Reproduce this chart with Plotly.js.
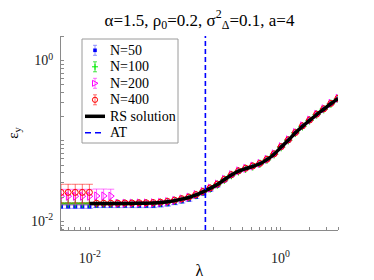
<!DOCTYPE html>
<html>
<head>
<meta charset="utf-8">
<script src="https://cdn.plot.ly/plotly-3.0.1.min.js"></script>
<style>html,body{margin:0;padding:0;background:#fff;}#chart{width:374px;height:280px;}</style>
</head>
<body>
<div id="chart"></div>
<script>
// lambda values (log-spaced sample points)
const lambda = [0.00500,0.00594,0.00705,0.00836,0.00992,0.01178,0.01398,0.01660,0.01970,0.02339,
  0.02776,0.03295,0.03911,0.04642,0.05510,0.06540,0.07762,0.09213,0.1094,0.1298,
  0.1541,0.1829,0.2171,0.2576,0.3058,0.3630,0.4308,0.5114,0.6069,0.7204,
  0.8551,1.015,1.205,1.430,1.698,2.015,2.392,2.839,3.370,4.000];

const n50 = [0.0153,0.0153,0.0153,0.0153,0.0153,0.0156,0.0156,0.0156,0.0156,0.0156,
  0.0156,0.0156,0.0156,0.0156,0.0159,0.0163,0.0169,0.0177,0.0186,0.0201,
  0.0221,0.0246,0.0277,0.0322,0.0370,0.0415,0.0448,0.0480,0.0517,0.0583,
  0.0681,0.0836,0.101,0.126,0.152,0.180,0.213,0.248,0.290,0.335];
const n50err = [0.0008,0.0008,0.0008,0.0008,0.0008,0.0008,0.0008,0.0008,0.0008,0.0008,
  0.0008,0.0008,0.0008,0.0008,0.0008,0.0008,0.0008,0.0008,0.0008,0.0008,
  0.0008,0.0008,0.0008,0.0008,0.0008,0.0008,0.0008,0.0008,0.0008,0.0008,
  0.0008,0.0008,0.0008,0.0008,0.0008,0.0008,0.0008,0.0008,0.0008,0.0008];

const n100 = [0.0166,0.0166,0.0166,0.0166,0.0166,0.0166,0.0166,0.0166,0.0166,0.0166,
  0.0166,0.0167,0.0167,0.0168,0.0170,0.0174,0.0180,0.0188,0.0197,0.0212,
  0.0232,0.0256,0.0286,0.0329,0.0376,0.0419,0.0451,0.0482,0.0519,0.0584,
  0.0682,0.0837,0.102,0.126,0.152,0.180,0.213,0.248,0.290,0.335];
const n100err = [0.0005,0.0005,0.0005,0.0005,0.0005,0.0005,0.0005,0.0005,0.0005,0.0005,
  0.0005,0.0005,0.0005,0.0005,0.0005,0.0005,0.0005,0.0005,0.0005,0.0005,
  0.0005,0.0005,0.0005,0.0005,0.0005,0.0005,0.0005,0.0005,0.0005,0.0005,
  0.0005,0.0005,0.0005,0.0005,0.0005,0.0005,0.0005,0.0005,0.0005,0.0005];

const n200 = [0.0205,0.0205,0.0205,0.0205,0.0205,0.0207,0.0207,0.0206,0.0168,0.0168,
  0.0168,0.0169,0.0169,0.0170,0.0172,0.0176,0.0182,0.0190,0.0200,0.0215,
  0.0235,0.0259,0.0290,0.0333,0.0380,0.0424,0.0456,0.0487,0.0524,0.0590,
  0.0689,0.0846,0.103,0.127,0.154,0.182,0.215,0.251,0.293,0.339];
const n200err = [0.0045,0.0045,0.0045,0.0045,0.0045,0.0045,0.0045,0.0045,0.0004,0.0004,
  0.0004,0.0004,0.0004,0.0004,0.0004,0.0004,0.0004,0.0004,0.0004,0.0004,
  0.0004,0.0004,0.0004,0.0004,0.0004,0.0004,0.0004,0.0004,0.0004,0.0004,
  0.0004,0.0004,0.0004,0.0004,0.0004,0.0004,0.0004,0.0004,0.0004,0.0004];

const n400 = [0.0229,0.0229,0.0229,0.0229,0.0229,0.0168,0.0168,0.0168,0.0168,0.0169,
  0.0169,0.0170,0.0170,0.0171,0.0173,0.0177,0.0183,0.0191,0.0200,0.0215,
  0.0235,0.0260,0.0290,0.0333,0.0381,0.0424,0.0457,0.0488,0.0525,0.0591,
  0.0690,0.0847,0.103,0.127,0.154,0.182,0.215,0.251,0.293,0.339];
const n400err = [0.0060,0.0060,0.0060,0.0060,0.0060,0.0004,0.0004,0.0004,0.0004,0.0004,
  0.0004,0.0004,0.0004,0.0004,0.0004,0.0004,0.0004,0.0004,0.0004,0.0004,
  0.0004,0.0004,0.0004,0.0004,0.0004,0.0004,0.0004,0.0004,0.0004,0.0004,
  0.0004,0.0004,0.0004,0.0004,0.0004,0.0004,0.0004,0.0004,0.0004,0.0004];

// RS solution (defined from lambda = 0.01 onward)
const rsLambda = lambda.slice(4);
const rs = [0.0167,0.0167,0.0167,0.0167,0.0167,0.0167,0.0167,0.0168,0.0168,0.0169,
  0.0171,0.0175,0.0181,0.0189,0.0198,0.0213,0.0233,0.0257,0.0287,0.0330,
  0.0377,0.0420,0.0452,0.0483,0.0520,0.0585,0.0683,0.0838,0.102,0.126,
  0.152,0.180,0.213,0.248,0.290,0.335];

const atLambda = 0.163;
const xRange = [0.005, 4];
const yRange = [0.0078, 2.02];

const xTickVals = [0.01, 1];
const xTickText = ['10<sup>-2</sup>', '10<sup>0</sup>'];
const yTickVals = [0.01, 1];
const yTickText = ['10<sup>-2</sup>', '10<sup>0</sup>'];

const legendNames = ['N=50', 'N=100', 'N=200', 'N=400', 'RS solution', 'AT'];

function minorTicks(lo, hi) {
  const out = [];
  for (let e = -4; e <= 1; e++) {
    for (let m = 1; m <= 9; m++) {
      const v = m * Math.pow(10, e);
      if (v >= lo && v <= hi) out.push(v);
    }
  }
  return out;
}

const serif = "'Liberation Serif', 'Times New Roman', serif";
const W = 374, H = 280;
const M = {l: 61, r: 36, t: 36, b: 50};
const PW = W - M.l - M.r, PH = H - M.t - M.b;
const px = x => (x - M.l) / PW;      // pixel -> paper x
const py = y => (H - M.b - y) / PH;  // pixel -> paper y

const colors = {n50: '#0000ff', n100: '#00ee00', n200: '#ff00ff', n400: '#ff0000'};
const errColors = {n50: 'rgba(80,80,255,0.6)', n100: 'rgba(0,220,0,0.7)', n200: 'rgba(255,0,255,0.55)', n400: 'rgba(255,0,0,0.55)'};

function errTrace(y, err, name, errColor, marker) {
  return {
    x: lambda, y: y, name: name, type: 'scatter', mode: 'markers',
    marker: marker, showlegend: false,
    error_y: {type: 'data', array: err, visible: true, color: errColor, thickness: 1, width: 3.5}
  };
}

const traces = [
  errTrace(n50, n50err, legendNames[0], errColors.n50,
    {symbol: 'square', size: 4, color: colors.n50, line: {width: 0}}),
  errTrace(n100, n100err, legendNames[1], errColors.n100,
    {symbol: 'cross-thin-open', size: 6, color: colors.n100, line: {width: 1, color: colors.n100}}),
  errTrace(n200, n200err, legendNames[2], errColors.n200,
    {symbol: 'triangle-right-open', size: 7, color: colors.n200, line: {width: 1, color: colors.n200}}),
  errTrace(n400, n400err, legendNames[3], errColors.n400,
    {symbol: 'circle-open', size: 6, color: colors.n400, line: {width: 1, color: colors.n400}}),
  {x: rsLambda, y: rs, name: legendNames[4], type: 'scatter', mode: 'lines', showlegend: false,
   line: {color: '#000000', width: 3.5, shape: 'spline', smoothing: 0.6}},
  {x: [atLambda, atLambda], y: yRange, name: legendNames[5], type: 'scatter', mode: 'lines', showlegend: false,
   line: {color: '#0000ff', width: 1.6, dash: '5px,3px'}}
];

// ---- hand-built legend (box, samples, labels) ----
const LG = {x0: 82, x1: 178, y0: 39, y1: 143, row0: 50.3, dy: 16.5, symX: 95, lineX0: 85, lineX1: 105, textX: 108};
const shapes = [];
const annotations = [];
shapes.push({type: 'rect', xref: 'paper', yref: 'paper', x0: px(LG.x0), x1: px(LG.x1), y0: py(LG.y1), y1: py(LG.y0),
  fillcolor: '#ffffff', line: {color: '#9a9a9a', width: 1}, layer: 'above'});
function seg(x0, y0, x1, y1, color, width, dash) {
  shapes.push({type: 'line', xref: 'paper', yref: 'paper', x0: px(x0), y0: py(y0), x1: px(x1), y1: py(y1),
    line: {color: color, width: width, dash: dash || 'solid'}, layer: 'above'});
}
function errSample(cy, color) {
  seg(LG.symX, cy - 5, LG.symX, cy + 5, color, 1);
  seg(LG.symX - 2, cy - 5, LG.symX + 2, cy - 5, color, 1);
  seg(LG.symX - 2, cy + 5, LG.symX + 2, cy + 5, color, 1);
}
const keys = ['n50', 'n100', 'n200', 'n400'];
keys.forEach((k, i) => {
  const cy = LG.row0 + i * LG.dy;
  errSample(cy, errColors[k]);
  const c = colors[k];
  if (k === 'n50') {
    shapes.push({type: 'rect', xref: 'paper', yref: 'paper', x0: px(LG.symX - 1.8), x1: px(LG.symX + 1.8),
      y0: py(cy + 1.8), y1: py(cy - 1.8), fillcolor: c, line: {width: 0}, layer: 'above'});
  } else if (k === 'n100') {
    seg(LG.symX - 3, cy, LG.symX + 3, cy, c, 1);
    seg(LG.symX, cy - 3, LG.symX, cy + 3, c, 1);
  } else if (k === 'n200') {
    const a = [px(LG.symX - 2.5), py(cy - 3)], b = [px(LG.symX + 3), py(cy)], d = [px(LG.symX - 2.5), py(cy + 3)];
    shapes.push({type: 'path', xref: 'paper', yref: 'paper',
      path: `M ${a[0]} ${a[1]} L ${b[0]} ${b[1]} L ${d[0]} ${d[1]} Z`,
      line: {color: c, width: 1}, fillcolor: 'rgba(0,0,0,0)', layer: 'above'});
  } else {
    shapes.push({type: 'circle', xref: 'paper', yref: 'paper', x0: px(LG.symX - 2.6), x1: px(LG.symX + 2.6),
      y0: py(cy + 2.6), y1: py(cy - 2.6), line: {color: c, width: 1}, fillcolor: 'rgba(0,0,0,0)', layer: 'above'});
  }
});
seg(LG.lineX0, LG.row0 + 4 * LG.dy, LG.lineX1, LG.row0 + 4 * LG.dy, '#000000', 3.5);
seg(LG.lineX0, LG.row0 + 5 * LG.dy, LG.lineX1, LG.row0 + 5 * LG.dy, '#0000ff', 1.5, '6px,4px');
legendNames.forEach((name, i) => {
  annotations.push({text: name, xref: 'paper', yref: 'paper', x: px(LG.textX), y: py(LG.row0 + i * LG.dy),
    xanchor: 'left', yanchor: 'middle', showarrow: false,
    font: {family: serif, size: 14, color: '#000'}});
});

const axisCommon = {
  type: 'log', showgrid: false, zeroline: false, showline: true,
  linecolor: '#8a8a8a', linewidth: 1, ticks: 'outside', tickcolor: 'rgba(0,0,0,0)',
  tickmode: 'array', mirror: false,
  tickfont: {family: serif, size: 14, color: '#222'}
};

const layout = {
  width: W, height: H,
  margin: M,
  paper_bgcolor: '#ffffff', plot_bgcolor: '#ffffff',
  font: {family: serif, size: 14, color: '#000'},
  showlegend: false,
  title: {
    text: 'α=1.5, ρ<sub>0</sub>=0.2, σ<sup>2</sup><sub>Δ</sub>=0.1, a=4',
    font: {family: serif, size: 17, color: '#000'},
    xref: 'paper', x: 0.5, xanchor: 'center',
    yref: 'container', y: 0.93, yanchor: 'middle'
  },
  xaxis: Object.assign({}, axisCommon, {
    range: [Math.log10(xRange[0]), Math.log10(xRange[1])],
    tickvals: xTickVals, ticktext: xTickText, ticklen: 15,
    minor: {tickmode: 'array', tickvals: minorTicks(xRange[0], xRange[1]), ticks: 'inside', ticklen: 3, tickcolor: '#8a8a8a'},
    title: {text: 'λ', font: {family: serif, size: 16}, standoff: 0}
  }),
  yaxis: Object.assign({}, axisCommon, {
    range: [Math.log10(yRange[0]), Math.log10(yRange[1])],
    tickvals: yTickVals, ticktext: yTickText, ticklen: 4,
    minor: {tickmode: 'array', tickvals: minorTicks(yRange[0], yRange[1]), ticks: 'inside', ticklen: 3, tickcolor: '#8a8a8a'},
    title: {text: 'ε<sub>y</sub>', font: {family: serif, size: 15}, standoff: 8}
  }),
  shapes: shapes,
  annotations: annotations
};

Plotly.newPlot('chart', traces, layout, {staticPlot: true, displayModeBar: false});
</script>
</body>
</html>
